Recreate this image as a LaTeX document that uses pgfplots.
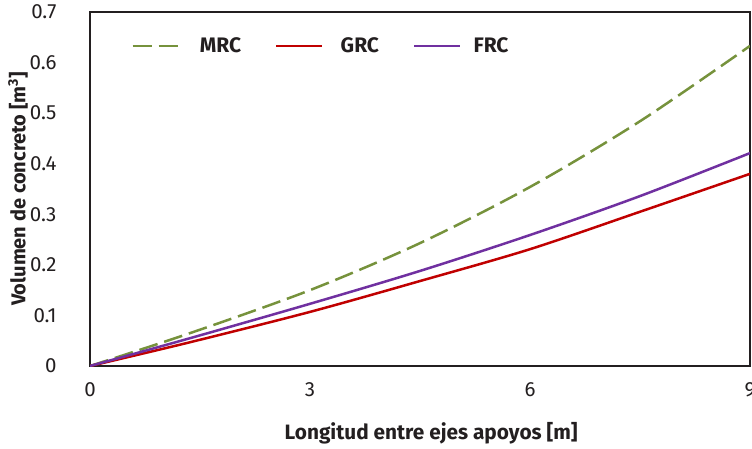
\documentclass[border=0pt]{standalone}
\usepackage{pgfplots}
\pgfplotsset{compat=1.18}
\usepackage{fontspec}
\setmainfont{Fira Sans}
\definecolor{cmrc}{RGB}{118,146,60}
\definecolor{cgrc}{RGB}{192,0,0}
\definecolor{cfrc}{RGB}{112,48,160}
\definecolor{txt}{RGB}{35,31,32}
\begin{document}
\begin{tikzpicture}[x=1pt,y=1pt]
\begin{axis}[
  at={(90pt,82pt)}, anchor=south west,
  scale only axis, width=660pt, height=354pt,
  xmin=0, xmax=9, ymin=0, ymax=0.7,
  xtick={0,3,6,9}, ytick={0,0.1,...,0.7},
  yticklabels={0,0.1,0.2,0.3,0.4,0.5,0.6,0.7},
  major tick length=0pt,
  axis line style={draw=txt, line width=1.2pt},
  /pgf/number format/assume math mode=true,
  tick label style={font=\fontsize{20.5}{24}\selectfont, text=txt},
  yticklabel style={xshift=-30pt},
  xticklabel style={yshift=-13pt},
  xlabel={\textbf{Longitud entre ejes apoyos [m]}},
  ylabel={\textbf{Volumen de concreto [m\textsuperscript{3}]}},
  label style={font=\fontsize{20}{24}\selectfont, text=txt},
  xlabel style={at={(axis description cs:0.517,-0.189)}, anchor=center, font=\fontsize{20.8}{24}\selectfont},
  ylabel style={at={(axis description cs:-0.109,0.5)}, anchor=center},
  legend columns=3,
  legend style={draw=none, fill=none, at={(0.058,0.904)}, anchor=west,
    font=\fontsize{21}{24}\selectfont\bfseries, text=txt,
    /tikz/every even column/.append style={column sep=32pt}},
  legend cell align=left,
  legend image code/.code={\draw[#1] (0pt,0pt) -- (46pt,0pt);},
]
\addplot[cmrc, line width=2.5pt, dash pattern=on 19pt off 7pt, smooth] coordinates {
(0,0) (1.364,0.065) (3,0.150) (4.5,0.243) (6,0.354) (7.5,0.484) (9,0.633)};
\addlegendentry{\hspace{18pt}MRC}
\addplot[cgrc, line width=2.5pt, smooth] coordinates {
(0,0) (1.364,0.047) (3,0.107) (4.5,0.168) (6,0.231) (7.5,0.305) (9,0.380)};
\addlegendentry{\hspace{15pt}GRC}
\addplot[cfrc, line width=2.5pt, smooth] coordinates {
(0,0) (1.364,0.055) (3,0.123) (4.5,0.188) (6,0.259) (7.5,0.336) (9,0.421)};
\addlegendentry{\hspace{10pt}FRC}
\end{axis}
\pgfresetboundingbox
\useasboundingbox (0,0) rectangle (752pt,448pt);
\end{tikzpicture}
\end{document}
